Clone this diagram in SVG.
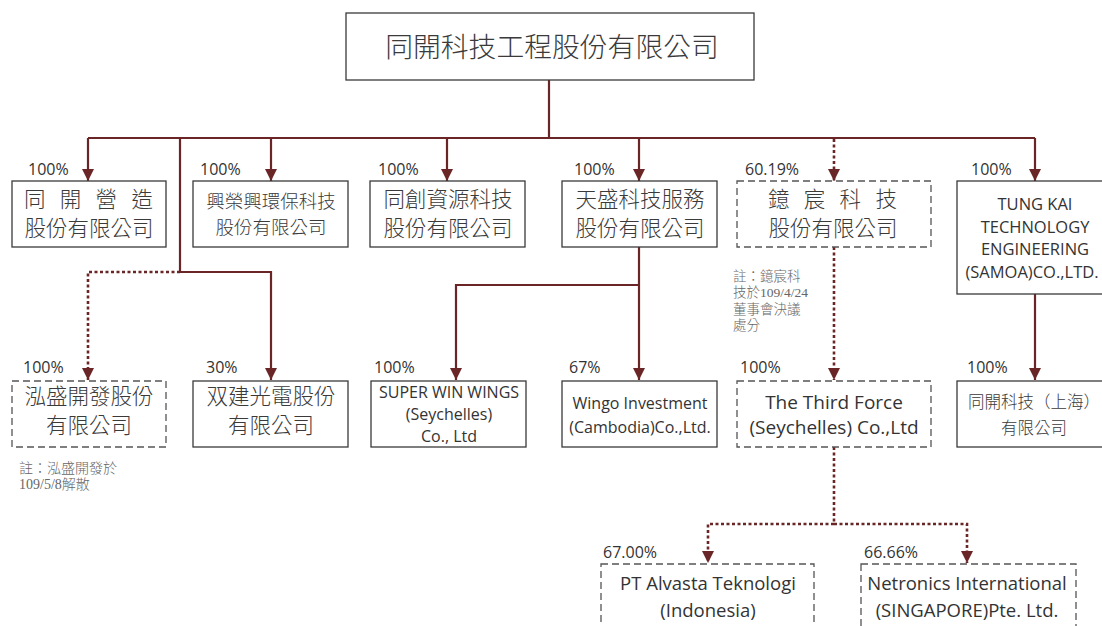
<svg xmlns="http://www.w3.org/2000/svg" width="1102" height="626" viewBox="0 0 1102 626">
<defs>
<marker id="ah" markerUnits="userSpaceOnUse" markerWidth="12" markerHeight="12" viewBox="0 0 12 12" refX="12" refY="6" orient="auto">
<path d="M0,0 L12,6 L0,12 z" fill="#6a2626"/>
</marker>
</defs>
<style>
.box{fill:#fff;stroke:#3a3a3a;stroke-width:1.3}
.dbox{fill:#fff;stroke:#555;stroke-width:1.3;stroke-dasharray:7 4}
.ln{fill:none;stroke:#6a2626;stroke-width:2.2}
.dot{fill:none;stroke:#6a2626;stroke-width:2.6;stroke-dasharray:3 2.5}
.arr{marker-end:url(#ah)}
.cjk{font-family:"Noto Sans CJK TC","Noto Sans CJK SC",sans-serif;font-weight:300;fill:#3a3a3a;text-anchor:middle}
.lat{font-family:"Open Sans","Liberation Sans",sans-serif;fill:#333;text-anchor:middle}
.pct{font-family:"Open Sans","Liberation Sans",sans-serif;fill:#333;font-size:16px}
.note{font-family:"Liberation Serif","Noto Sans CJK TC",serif;font-weight:300;fill:#666}
</style>
<g id="connectors">
<path class="ln" d="M549 80 V138"/>
<path class="ln" d="M88 138 H1035"/>
<path class="ln arr" d="M88 138 V181"/>
<path class="ln arr" d="M271 138 V181"/>
<path class="ln arr" d="M447 138 V181"/>
<path class="ln arr" d="M639 138 V181"/>
<path class="dot arr" d="M834 139 V181"/>
<path class="ln arr" d="M1035 138 V181"/>
<path class="ln" d="M180 138 V272"/>
<path class="ln arr" d="M180 272 H271 V380"/>
<path class="dot arr" d="M180 272 H88 V380"/>
<path class="ln arr" d="M639 247 V380"/>
<path class="ln arr" d="M639 285 H456 V380"/>
<path class="dot arr" d="M834 247 V380"/>
<path class="ln arr" d="M1035 294 V380"/>
<path class="dot" d="M834 447 V524"/>
<path class="dot arr" d="M834 524 H708 V563"/>
<path class="dot arr" d="M834 524 H967 V563"/>
</g>
<g id="parent">
<rect class="box" x="346" y="13" width="408" height="67"/>
<text class="cjk" x="552" y="57" font-size="27.8">同開科技工程股份有限公司</text>
</g>
<g id="n-tongkai-construction">
<rect class="box" x="12" y="181" width="154" height="66"/>
<text class="pct" x="28" y="175">100%</text>
<text class="cjk" style="text-anchor:start" x="24 45.5 59.8 81.3 95.6 117.1 131.4" y="207" font-size="21.5">同 開 營 造</text>
<text class="cjk" x="89" y="236" font-size="21.5">股份有限公司</text>
</g>
<g id="n-xingrong">
<rect class="box" x="193" y="181" width="155" height="66"/>
<text class="pct" x="200" y="175">100%</text>
<text class="cjk" x="271" y="207.5" font-size="18.5">興榮興環保科技</text>
<text class="cjk" x="271" y="233.5" font-size="18.5">股份有限公司</text>
</g>
<g id="n-tongchuang">
<rect class="box" x="370" y="181" width="155" height="66"/>
<text class="pct" x="378" y="175">100%</text>
<text class="cjk" x="448" y="207" font-size="21.5">同創資源科技</text>
<text class="cjk" x="448" y="236" font-size="21.5">股份有限公司</text>
</g>
<g id="n-tiansheng">
<rect class="box" x="562" y="181" width="155" height="66"/>
<text class="pct" x="574" y="175">100%</text>
<text class="cjk" x="640" y="207" font-size="21.5">天盛科技服務</text>
<text class="cjk" x="640" y="236" font-size="21.5">股份有限公司</text>
</g>
<g id="n-yichen">
<rect class="dbox" x="737" y="181" width="194" height="66"/>
<text class="pct" x="745" y="175">60.19%</text>
<text class="cjk" style="text-anchor:start" x="768 789.5 803.8 825.3 839.6 861.1 875.4" y="207" font-size="21.5">鐿 宸 科 技</text>
<text class="cjk" x="833" y="236" font-size="21.5">股份有限公司</text>
</g>
<g id="n-tungkai-samoa">
<rect class="box" x="957" y="181" width="160" height="113"/>
<text class="pct" x="971" y="175">100%</text>
<text class="lat" x="1035" y="210" font-size="16.5">TUNG KAI</text>
<text class="lat" x="1035" y="233" font-size="16.5">TECHNOLOGY</text>
<text class="lat" x="1035" y="255" font-size="16.5">ENGINEERING</text>
<text class="lat" x="1032" y="278" font-size="16.5">(SAMOA)CO.,LTD.</text>
</g>
<g id="n-hongsheng">
<rect class="dbox" x="12" y="381" width="154" height="66"/>
<text class="pct" x="23" y="373">100%</text>
<text class="cjk" x="89" y="404" font-size="21.5">泓盛開發股份</text>
<text class="cjk" x="89" y="433" font-size="21.5">有限公司</text>
</g>
<g id="n-shuangjian">
<rect class="box" x="193" y="381" width="155" height="66"/>
<text class="pct" x="206" y="373">30%</text>
<text class="cjk" x="271" y="404" font-size="21.5">双建光電股份</text>
<text class="cjk" x="271" y="433" font-size="21.5">有限公司</text>
</g>
<g id="n-superwin">
<rect class="box" x="371" y="381" width="155" height="66"/>
<text class="pct" x="374" y="373">100%</text>
<text class="lat" x="449" y="398" font-size="16">SUPER WIN WINGS</text>
<text class="lat" x="449" y="420" font-size="16">(Seychelles)</text>
<text class="lat" x="449" y="442" font-size="16">Co., Ltd</text>
</g>
<g id="n-wingo">
<rect class="box" x="562" y="381" width="155" height="66"/>
<text class="pct" x="569" y="373">67%</text>
<text class="lat" x="640" y="409" font-size="16">Wingo Investment</text>
<text class="lat" x="640" y="433" font-size="16">(Cambodia)Co.,Ltd.</text>
</g>
<g id="n-thirdforce">
<rect class="dbox" x="737" y="381" width="194" height="66"/>
<text class="pct" x="740" y="373">100%</text>
<text class="lat" x="834" y="409" font-size="19">The Third Force</text>
<text class="lat" x="834" y="434" font-size="19">(Seychelles) Co.,Ltd</text>
</g>
<g id="n-shanghai">
<rect class="box" x="957" y="381" width="160" height="66"/>
<text class="pct" x="967" y="373">100%</text>
<text class="cjk" x="1034" y="408" font-size="16.5">同開科技（上海）</text>
<text class="cjk" x="1034" y="434" font-size="16.5">有限公司</text>
</g>
<g id="n-alvasta">
<rect class="dbox" x="601" y="564" width="213" height="80"/>
<text class="pct" x="603" y="558">67.00%</text>
<text class="lat" x="708" y="590" font-size="18.5">PT Alvasta Teknologi</text>
<text class="lat" x="708" y="617" font-size="18.5">(Indonesia)</text>
</g>
<g id="n-netronics">
<rect class="dbox" x="861" y="564" width="215" height="80"/>
<text class="pct" x="864" y="558">66.66%</text>
<text class="lat" x="967" y="590" font-size="18.5">Netronics International</text>
<text class="lat" x="967" y="617" font-size="18.5">(SINGAPORE)Pte. Ltd.</text>
</g>
<g id="notes">
<text class="note" x="19" y="473" font-size="14">註：泓盛開發於</text>
<text class="note" x="19" y="489" font-size="14">109/5/8解散</text>
<text class="note" x="733" y="281" font-size="13.5">註：鐿宸科</text>
<text class="note" x="733" y="297" font-size="13.5">技於109/4/24</text>
<text class="note" x="733" y="314" font-size="13.5">董事會決議</text>
<text class="note" x="733" y="330" font-size="13.5">處分</text>
</g>
</svg>
